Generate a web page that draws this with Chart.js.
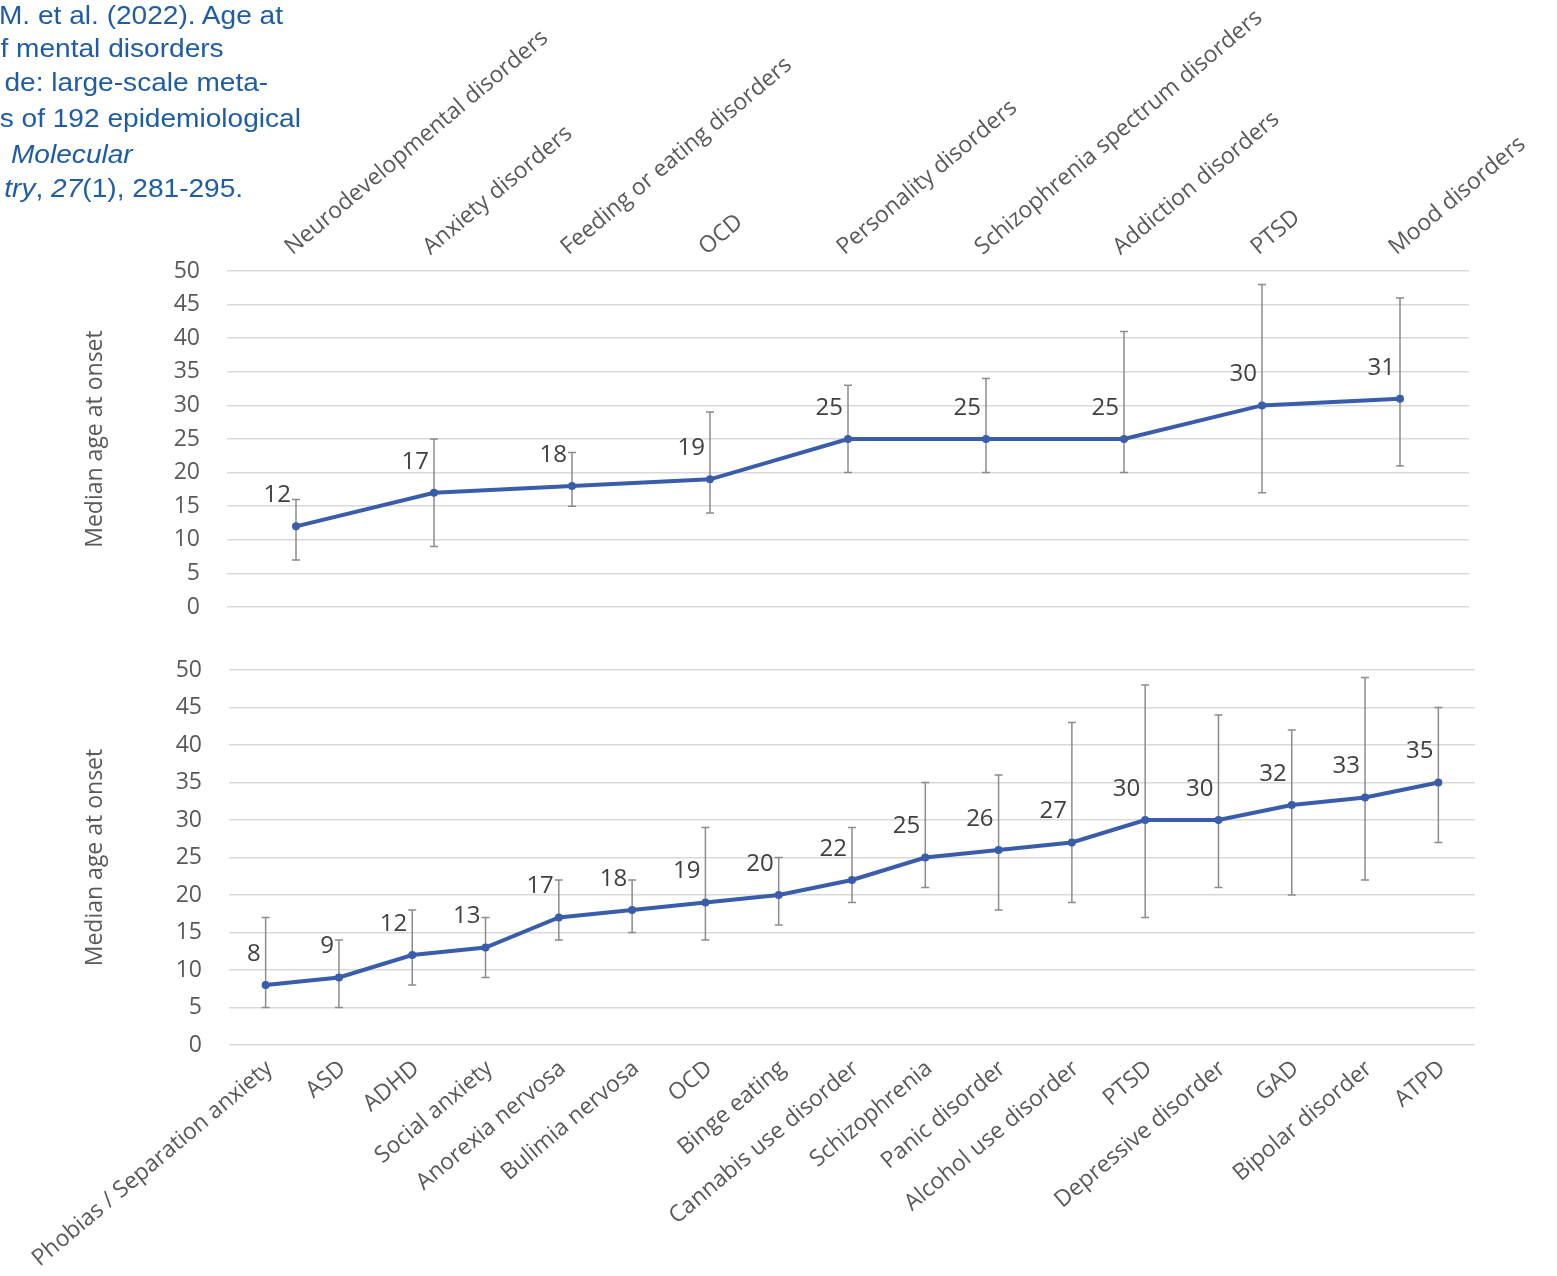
<!DOCTYPE html>
<html>
<head>
<meta charset="utf-8">
<script src="https://cdn.jsdelivr.net/npm/chart.js@4.4.0/dist/chart.umd.min.js"></script>
<style>
  html, body { margin: 0; padding: 0; background: #fff; }
  body { width: 1557px; height: 1276px; position: relative; overflow: hidden; }
  .wrap { position: absolute; left: 0; width: 1557px; }
  #topWrap { top: 0; height: 640px; }
  #bottomWrap { top: 640px; height: 636px; }
  .cite { position: absolute; font-family: "Liberation Sans", Arial, sans-serif; font-size: 26px;
          color: #1f5ca6; white-space: nowrap; line-height: 35px;
          transform: scaleX(1.08); transform-origin: right center; }
</style>
</head>
<body>
<div id="topWrap" class="wrap"><canvas id="topChart" width="1557" height="640"></canvas></div>
<div id="bottomWrap" class="wrap"><canvas id="bottomChart" width="1557" height="636"></canvas></div>

<!-- citation, cut off at the left edge like in the original slide -->
<div class="cite" style="top:-2px; right:1274px">M. et al. (2022). Age at</div>
<div class="cite" style="top:31px; right:1333px">f mental disorders</div>
<div class="cite" style="top:65px; right:1289px">de: large-scale meta-</div>
<div class="cite" style="top:101px; right:1256px">s of 192 epidemiological</div>
<div class="cite" style="top:137px; right:1424px"><i>Molecular</i></div>
<div class="cite" style="top:171px; right:1314px"><i>try</i>, <i>27</i>(1), 281-295.</div>

<script>
// disorder groups (top panel)
const topLabels = ['Neurodevelopmental disorders', 'Anxiety disorders', 'Feeding or eating disorders', 'OCD',
  'Personality disorders', 'Schizophrenia spectrum disorders', 'Addiction disorders', 'PTSD', 'Mood disorders'];
const topMedian = [12, 17, 18, 19, 25, 25, 25, 30, 31];
const topLow    = [7, 9, 15, 14, 20, 20, 20, 17, 21];
const topHigh   = [16, 25, 23, 29, 33, 34, 41, 48, 46];

// single disorders (bottom panel)
const bottomLabels = ['Phobias / Separation anxiety', 'ASD', 'ADHD', 'Social anxiety', 'Anorexia nervosa',
  'Bulimia nervosa', 'OCD', 'Binge eating', 'Cannabis use disorder', 'Schizophrenia', 'Panic disorder',
  'Alcohol use disorder', 'PTSD', 'Depressive disorder', 'GAD', 'Bipolar disorder', 'ATPD'];
const bottomMedian = [8, 9, 12, 13, 17, 18, 19, 20, 22, 25, 26, 27, 30, 30, 32, 33, 35];
const bottomLow    = [5, 5, 8, 9, 14, 15, 14, 16, 19, 21, 18, 19, 17, 21, 20, 22, 27];
const bottomHigh   = [17, 14, 18, 17, 22, 22, 29, 25, 29, 35, 36, 43, 48, 44, 42, 49, 45];

const yTitle = 'Median age at onset';

const FONT = '"Open Sans", "DejaVu Sans", sans-serif';
const LINE_BLUE = '#3a5dab';
const TICK_GREY = '#595959';

// whiskers under the line, value labels on top
const errorBars = {
  id: 'errorBars',
  beforeDatasetsDraw(chart, args, opts) {
    const { ctx, scales: { x, y } } = chart;
    ctx.save();
    ctx.strokeStyle = '#8c8c8c';
    ctx.lineWidth = 1.5;
    opts.low.forEach((lo, i) => {
      const px = x.getPixelForValue(i);
      const yLo = y.getPixelForValue(lo);
      const yHi = y.getPixelForValue(opts.high[i]);
      ctx.beginPath();
      ctx.moveTo(px, yLo); ctx.lineTo(px, yHi);
      ctx.moveTo(px - 4, yLo); ctx.lineTo(px + 4, yLo);
      ctx.moveTo(px - 4, yHi); ctx.lineTo(px + 4, yHi);
      ctx.stroke();
    });
    ctx.restore();
  },
  afterDatasetsDraw(chart) {
    const { ctx } = chart;
    const meta = chart.getDatasetMeta(0);
    const data = chart.data.datasets[0].data;
    ctx.save();
    ctx.fillStyle = '#404040';
    ctx.font = '24px ' + FONT;
    ctx.textAlign = 'right';
    ctx.textBaseline = 'middle';
    meta.data.forEach((pt, i) => {
      ctx.fillText(String(data[i]), pt.x - 5, pt.y - 31);
    });
    ctx.restore();
  }
};

function makeChart(id, labels, values, low, high, xPos, yWidth, xHeight, padding, labelShift) {
  return new Chart(document.getElementById(id), {
    type: 'line',
    data: {
      labels: labels,
      datasets: [{
        data: values,
        borderColor: LINE_BLUE,
        backgroundColor: LINE_BLUE,
        borderWidth: 4,
        pointRadius: 4,
        pointBackgroundColor: LINE_BLUE,
        pointBorderWidth: 0,
        tension: 0
      }]
    },
    options: {
      responsive: false,
      animation: false,
      layout: { padding: padding },
      plugins: {
        legend: { display: false },
        tooltip: { enabled: false },
        errorBars: { low: low, high: high }
      },
      scales: {
        x: {
          position: xPos,
          offset: true,
          grid: { display: false, drawTicks: false },
          border: { display: false },
          ticks: {
            autoSkip: false,
            minRotation: 40,
            maxRotation: 40,
            padding: 10,
            labelOffset: labelShift,
            color: TICK_GREY,
            font: { family: FONT, size: 23 }
          },
          afterFit(s) { s.height = xHeight; }
        },
        y: {
          min: 0,
          max: 50,
          // gap between labels and plot done with an invisible tick mark,
          // a big ticks.padding would also pad the chart area vertically
          ticks: { stepSize: 5, padding: 5, color: TICK_GREY, font: { family: FONT, size: 23 } },
          grid: { color: '#d9d9d9', lineWidth: 1.5, drawTicks: true, tickLength: 22, tickColor: 'rgba(0,0,0,0)' },
          border: { display: false },
          title: { display: true, text: yTitle, color: TICK_GREY, font: { family: FONT, size: 23 }, padding: { top: 7, bottom: 0 } },
          afterFit(s) { s.width = yWidth; }
        }
      }
    },
    plugins: [errorBars]
  });
}

makeChart('topChart', topLabels, topMedian, topLow, topHigh, 'top', 152, 271,
  { left: 75, right: 88, top: 0, bottom: 33 }, 10);
makeChart('bottomChart', bottomLabels, bottomMedian, bottomLow, bottomHigh, 'bottom', 154, 231,
  { left: 75, right: 82, top: 30, bottom: 0 }, 4);
</script>
</body>
</html>
